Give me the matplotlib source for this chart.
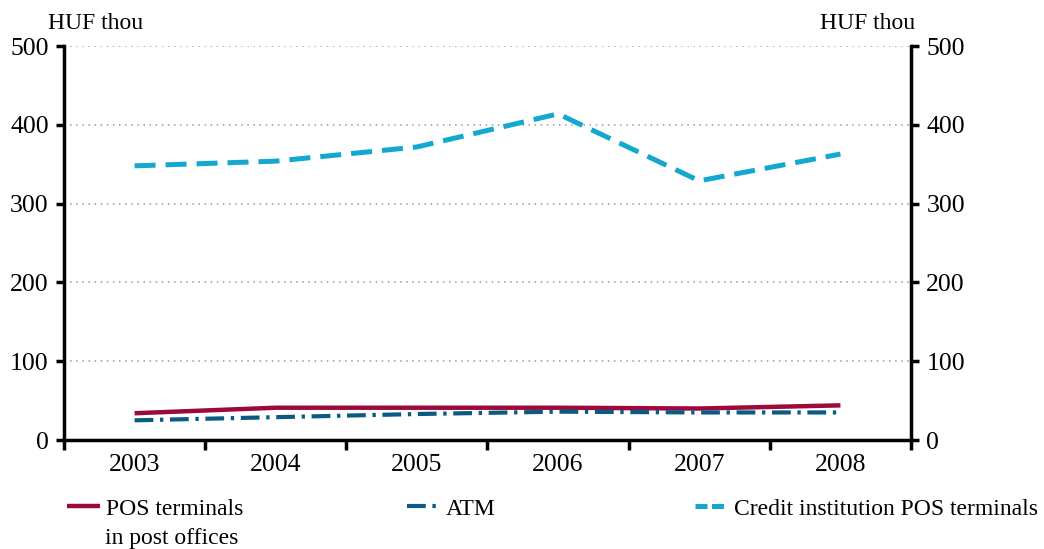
import matplotlib
matplotlib.use('Agg')
import matplotlib.pyplot as plt
from matplotlib.lines import Line2D
import numpy as np

plt.rcParams['font.family'] = ['Liberation Serif', 'DejaVu Serif']

years = ['2003', '2004', '2005', '2006', '2007', '2008']
pos_post = [34, 41, 41, 41, 40, 44]
atm = [25, 29, 33, 36, 35, 35]
credit_pos = [348, 354, 372, 414, 329, 363]

x = np.arange(len(years))
fs_tick = 18.5
fs = 17

fig = plt.figure(figsize=(10.44, 5.49), dpi=100)
ax = fig.add_axes([0.0613, 0.1985, 0.8113, 0.7175])

l1, = ax.plot(x, pos_post, color='#9b0a3a', lw=3.2, solid_capstyle='butt')
l2, = ax.plot(x, atm, color='#0b5a82', lw=3.0, dashes=(4.5, 1.6, 0.8, 1.6))
l3, = ax.plot(x, credit_pos, color='#12a8d0', lw=3.6, dashes=(4.2, 2.0))

ax.set_xlim(-0.5, len(years) - 0.5)
ax.set_ylim(0, 500)
ax.set_yticks(range(0, 501, 100))
ax.set_xticks(x)
ax.set_xticklabels(years, fontsize=fs_tick)
ax.set_xticks(np.arange(-0.5, len(years)), minor=True)
ax.tick_params(axis='x', which='major', length=0, pad=10)
ax.tick_params(axis='x', which='minor', length=7, width=2.5, direction='out')
ax.tick_params(axis='y', length=6, width=2.5, labelsize=fs_tick, pad=5,
               right=True, labelright=True)

for yv in range(100, 501, 100):
    ax.axhline(yv, color='#999999', lw=1.1, ls=(0, (1, 3)), zorder=0)

ax.spines['top'].set_visible(False)
for s in ['left', 'right', 'bottom']:
    ax.spines[s].set_linewidth(2.5)

fig.text(0.046, 0.958, 'HUF thou', fontsize=fs, ha='left', va='center')
fig.text(0.877, 0.958, 'HUF thou', fontsize=fs, ha='right', va='center')

# legend proxy so the short handle shows two dashes like the original
h3 = Line2D([], [], color='#12a8d0', lw=3.6, dashes=(2.4, 0.9))

leg_kw = dict(frameon=False, fontsize=fs, handlelength=1.4, handletextpad=0.25,
              loc='upper left', borderaxespad=0)
fig.legend([l1], ['POS terminals'], bbox_to_anchor=(0.055, 0.11), **leg_kw)
fig.text(0.1006, 0.02, 'in post offices', fontsize=fs, ha='left', va='center')
fig.legend([l2], ['ATM'], bbox_to_anchor=(0.381, 0.11), **leg_kw)
fig.legend([h3], ['Credit institution POS terminals'], bbox_to_anchor=(0.657, 0.11), **leg_kw)

fig.savefig('out.png', dpi=100)
